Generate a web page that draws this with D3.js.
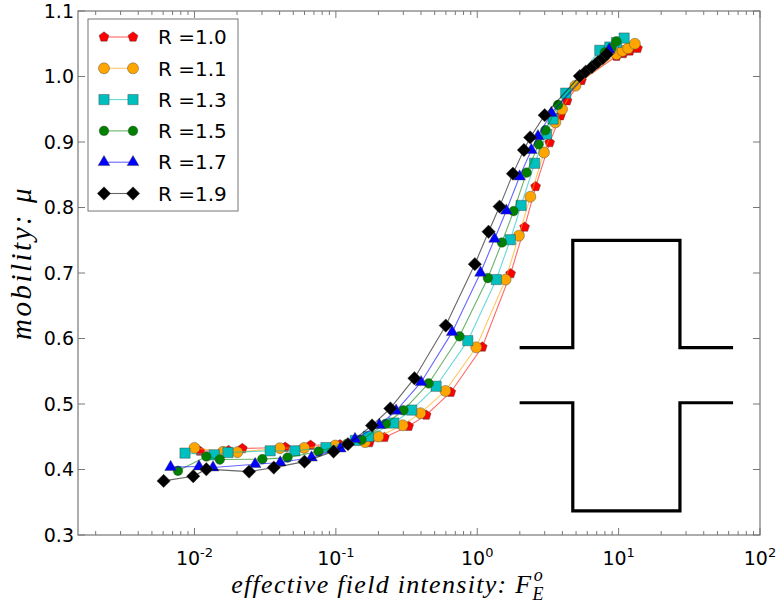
<!DOCTYPE html>
<html>
<head>
<meta charset="utf-8">
<script src="https://cdn.jsdelivr.net/npm/d3@7"></script>
<style>
  body { margin: 0; background: #fff; }
</style>
</head>
<body>
<script>
// data
const labels = ["R =1.0", "R =1.1", "R =1.3", "R =1.5", "R =1.7", "R =1.9"];

const fieldR10 = [0.0109, 0.0174, 0.0218, 0.0438, 0.0662, 0.107, 0.1725, 0.2205, 0.327, 0.435, 0.650, 1.085, 1.722, 2.163, 2.588, 3.252, 3.873, 4.314, 5.456, 9.66, 10.76, 12.0, 13.6];
const muR10    = [0.428, 0.429, 0.432, 0.434, 0.437, 0.438, 0.441, 0.449, 0.466, 0.483, 0.518, 0.587, 0.699, 0.770, 0.832, 0.899, 0.940, 0.963, 0.994, 1.031, 1.035, 1.039, 1.043];

const fieldR11 = [0.0100, 0.0159, 0.0201, 0.0402, 0.0597, 0.099, 0.1608, 0.1997, 0.297, 0.396, 0.596, 0.984, 1.587, 1.972, 2.375, 2.965, 3.57, 3.98, 4.95, 9.66, 10.66, 11.67, 13.03];
const muR11    = [0.433, 0.427, 0.4265, 0.4326, 0.433, 0.4366, 0.4418, 0.4504, 0.4675, 0.486, 0.520, 0.5865, 0.690, 0.757, 0.8165, 0.884, 0.930, 0.950, 0.986, 1.034, 1.039, 1.043, 1.050];

const fieldR13 = [0.00857, 0.0138, 0.01726, 0.0343, 0.0513, 0.0851, 0.1372, 0.1698, 0.2566, 0.344, 0.512, 0.858, 1.364, 1.713, 2.044, 2.547, 3.083, 3.435, 4.226, 7.36, 8.66, 9.66, 10.94];
const muR13    = [0.425, 0.4224, 0.426, 0.4285, 0.4285, 0.4335, 0.4443, 0.4504, 0.4709, 0.4907, 0.5271, 0.5967, 0.690, 0.7508, 0.8032, 0.8675, 0.912, 0.935, 0.9746, 1.040, 1.045, 1.052, 1.0587];

const fieldR15 = [0.00764, 0.01213, 0.0151, 0.0302, 0.0455, 0.0754, 0.120, 0.152, 0.2258, 0.3003, 0.4531, 0.749, 1.189, 1.494, 1.808, 2.236, 2.719, 3.034, 3.727, 7.98, 8.91, 9.66];
const muR15    = [0.398, 0.4198, 0.4152, 0.4158, 0.4182, 0.4274, 0.4392, 0.4453, 0.4698, 0.4904, 0.5314, 0.6033, 0.6923, 0.7466, 0.7945, 0.8533, 0.8965, 0.918, 0.9566, 1.0368, 1.0434, 1.0536];

const fieldR17 = [0.00678, 0.01076, 0.01352, 0.02685, 0.0404, 0.0673, 0.1074, 0.1366, 0.2031, 0.2667, 0.4009, 0.665, 1.055, 1.326, 1.605, 1.994, 2.414, 2.689, 3.346, 8.56];
const muR17    = [0.4036, 0.4045, 0.403, 0.4081, 0.4106, 0.4182, 0.432, 0.4464, 0.4678, 0.4897, 0.5333, 0.6097, 0.7003, 0.752, 0.7951, 0.8473, 0.8877, 0.9088, 0.9443, 1.0408];

const fieldR19 = [0.00605, 0.0098, 0.01213, 0.02433, 0.0364, 0.060, 0.0963, 0.1218, 0.1802, 0.2428, 0.3594, 0.599, 0.9617, 1.2024, 1.439, 1.788, 2.139, 2.367, 2.999, 5.31, 5.855, 6.46, 7.12, 7.73, 8.25];
const muR19    = [0.3826, 0.3898, 0.4005, 0.3968, 0.4029, 0.412, 0.4274, 0.4387, 0.4672, 0.4932, 0.5394, 0.6197, 0.7135, 0.763, 0.8014, 0.8517, 0.8877, 0.907, 0.941, 1.0006, 1.0075, 1.0143, 1.022, 1.028, 1.034];

const yTicks = [0.3, 0.4, 0.5, 0.6, 0.7, 0.8, 0.9, 1.0, 1.1];
const xTickExps = [-2, -1, 0, 1, 2];

// channel sketch drawn inside the plot (data coordinates)
const channelX = [1.994, 4.74, 27.15, 64.5];
const channelY = [0.7497, 0.586, 0.5019, 0.3367];

const colors  = ["#ff0000", "#ffa500", "#00bfbf", "#008000", "#0000ff", "#000000"];
const markers = ["pentagon", "circle", "square", "circle", "triangle", "diamond"];

const series = labels.map((name, i) => ({
  name,
  color: colors[i],
  marker: markers[i],
  values: [fieldR10, fieldR11, fieldR13, fieldR15, fieldR17, fieldR19][i]
    .map((f, j) => ({ f, mu: [muR10, muR11, muR13, muR15, muR17, muR19][i][j] }))
}));

const width = 777, height = 607;
const margin = { top: 11, right: 17, bottom: 72, left: 78 };
const innerW = width - margin.left - margin.right;
const innerH = height - margin.top - margin.bottom;

const svg = d3.select("body").append("svg")
  .attr("width", width)
  .attr("height", height);

const x = d3.scaleLog().domain([0.0015, 100]).range([0, innerW]);
const y = d3.scaleLinear().domain([0.3, 1.1]).range([innerH, 0]);

const g = svg.append("g").attr("transform", `translate(${margin.left},${margin.top})`);

// ticks (inside, all four sides)
const minor = [];
for (let e = -3; e < 2; e++) {
  for (let k = 1; k < 10; k++) {
    const v = k * Math.pow(10, e);
    if (v >= 0.0015 && v <= 100) minor.push({ v, major: k === 1 });
  }
}
minor.push({ v: 100, major: true });

const tickColor = "#555";
minor.forEach(t => {
  const len = t.major ? 7 : 4;
  const px = x(t.v);
  g.append("line").attr("x1", px).attr("x2", px).attr("y1", innerH).attr("y2", innerH - len)
    .attr("stroke", tickColor).attr("stroke-width", 0.8);
  g.append("line").attr("x1", px).attr("x2", px).attr("y1", 0).attr("y2", len)
    .attr("stroke", tickColor).attr("stroke-width", 0.8);
});
yTicks.forEach(v => {
  g.append("line").attr("x1", 0).attr("x2", 7).attr("y1", y(v)).attr("y2", y(v))
    .attr("stroke", tickColor).attr("stroke-width", 0.8);
  g.append("line").attr("x1", innerW).attr("x2", innerW - 7).attr("y1", y(v)).attr("y2", y(v))
    .attr("stroke", tickColor).attr("stroke-width", 0.8);
});

// tick labels
g.selectAll(".ylab").data(yTicks).enter().append("text")
  .attr("x", -4)
  .attr("y", d => y(d))
  .attr("dy", "0.36em")
  .attr("text-anchor", "end")
  .style("font-family", "DejaVu Sans")
  .style("font-size", "19px")
  .text(d => d.toFixed(1));

const xl = g.selectAll(".xlab").data(xTickExps).enter().append("text")
  .attr("x", d => x(Math.pow(10, d)))
  .attr("y", innerH + 30)
  .attr("text-anchor", "middle")
  .style("font-family", "DejaVu Sans")
  .style("font-size", "19px");
xl.append("tspan").text("10");
xl.append("tspan").attr("dy", -8).style("font-size", "13px").text(d => d);

// channel sketch
const sketch = d3.line().x(d => x(d[0])).y(d => y(d[1]));
const upper = [[channelX[0], channelY[1]], [channelX[1], channelY[1]], [channelX[1], channelY[0]],
               [channelX[2], channelY[0]], [channelX[2], channelY[1]], [channelX[3], channelY[1]]];
const lower = [[channelX[0], channelY[2]], [channelX[1], channelY[2]], [channelX[1], channelY[3]],
               [channelX[2], channelY[3]], [channelX[2], channelY[2]], [channelX[3], channelY[2]]];
[upper, lower].forEach(p => {
  g.append("path").attr("d", sketch(p)).attr("fill", "none")
    .attr("stroke", "#000").attr("stroke-width", 3.2).attr("stroke-linejoin", "miter");
});

// marker shapes
function markerPath(type) {
  if (type === "pentagon") {
    const r = 5.2;
    const pts = d3.range(5).map(k => {
      const a = -Math.PI / 2 + k * 2 * Math.PI / 5;
      return [r * Math.cos(a), r * Math.sin(a)];
    });
    return "M" + pts.map(p => p.join(",")).join("L") + "Z";
  }
  if (type === "circle") return d3.symbol(d3.symbolCircle, 95)();
  if (type === "square") return d3.symbol(d3.symbolSquare, 105)();
  if (type === "triangle") return d3.symbol(d3.symbolTriangle, 60)();
  if (type === "diamond") return d3.symbol(d3.symbolSquare, 90)();
  return d3.symbol(d3.symbolCircle, 64)();
}
function markerSize(s) { return s.color === "#008000" ? 0.88 : 1; }

const line = d3.line().x(d => x(d.f)).y(d => y(d.mu));

const plot = g.append("g");
series.forEach(s => {
  plot.append("path")
    .datum(s.values)
    .attr("d", line)
    .attr("fill", "none")
    .attr("stroke", s.color)
    .attr("stroke-opacity", 0.6)
    .attr("stroke-width", 1.1);
  plot.selectAll(null).data(s.values).enter().append("path")
    .attr("d", markerPath(s.marker))
    .attr("transform", d => `translate(${x(d.f)},${y(d.mu)})` +
      (s.marker === "diamond" ? " rotate(45)" : "") + ` scale(${markerSize(s)})`)
    .attr("fill", s.color)
    .attr("stroke", "rgba(60,60,60,0.6)")
    .attr("stroke-width", 0.7);
});

// frame
g.append("rect").attr("width", innerW).attr("height", innerH)
  .attr("fill", "none").attr("stroke", "#777").attr("stroke-width", 1.2);

// legend
const leg = svg.append("g").attr("transform", "translate(88,19)");
leg.append("rect").attr("width", 150).attr("height", 192)
  .attr("fill", "#fff").attr("stroke", "#777").attr("stroke-width", 1);
series.forEach((s, i) => {
  const ly = 18 + i * 31.3;
  leg.append("line").attr("x1", 16).attr("x2", 45).attr("y1", ly).attr("y2", ly)
    .attr("stroke", s.color).attr("stroke-opacity", 0.6).attr("stroke-width", 1.1);
  [16, 45].forEach(mx => {
    leg.append("path")
      .attr("d", markerPath(s.marker))
      .attr("transform", `translate(${mx},${ly})` + (s.marker === "diamond" ? " rotate(45)" : "") + ` scale(${markerSize(s)})`)
      .attr("fill", s.color)
      .attr("stroke", "rgba(60,60,60,0.6)")
      .attr("stroke-width", 0.7);
  });
  leg.append("text").attr("x", 70).attr("y", ly).attr("dy", "0.36em")
    .style("font-family", "DejaVu Sans").style("font-size", "20px")
    .text(s.name);
});

// axis labels
const xlab = svg.append("text")
  .attr("x", 388)
  .attr("y", 593)
  .attr("text-anchor", "middle")
  .style("font-family", "Liberation Serif")
  .style("font-style", "italic")
  .style("font-size", "26px")
  .style("letter-spacing", "1.3px");
xlab.append("tspan").text("effective field intensity: F");
xlab.append("tspan").attr("dy", 7).style("font-size", "18px").text("E");
xlab.append("tspan").attr("dx", -11).attr("dy", -19).style("font-size", "18px").text("o");

svg.append("text")
  .attr("transform", `translate(31,${margin.top + innerH / 2 - 10}) rotate(-90)`)
  .attr("text-anchor", "middle")
  .style("font-family", "Liberation Serif")
  .style("font-style", "italic")
  .style("font-size", "29px")
  .style("letter-spacing", "2.5px")
  .text("mobility: μ");
</script>
</body>
</html>
